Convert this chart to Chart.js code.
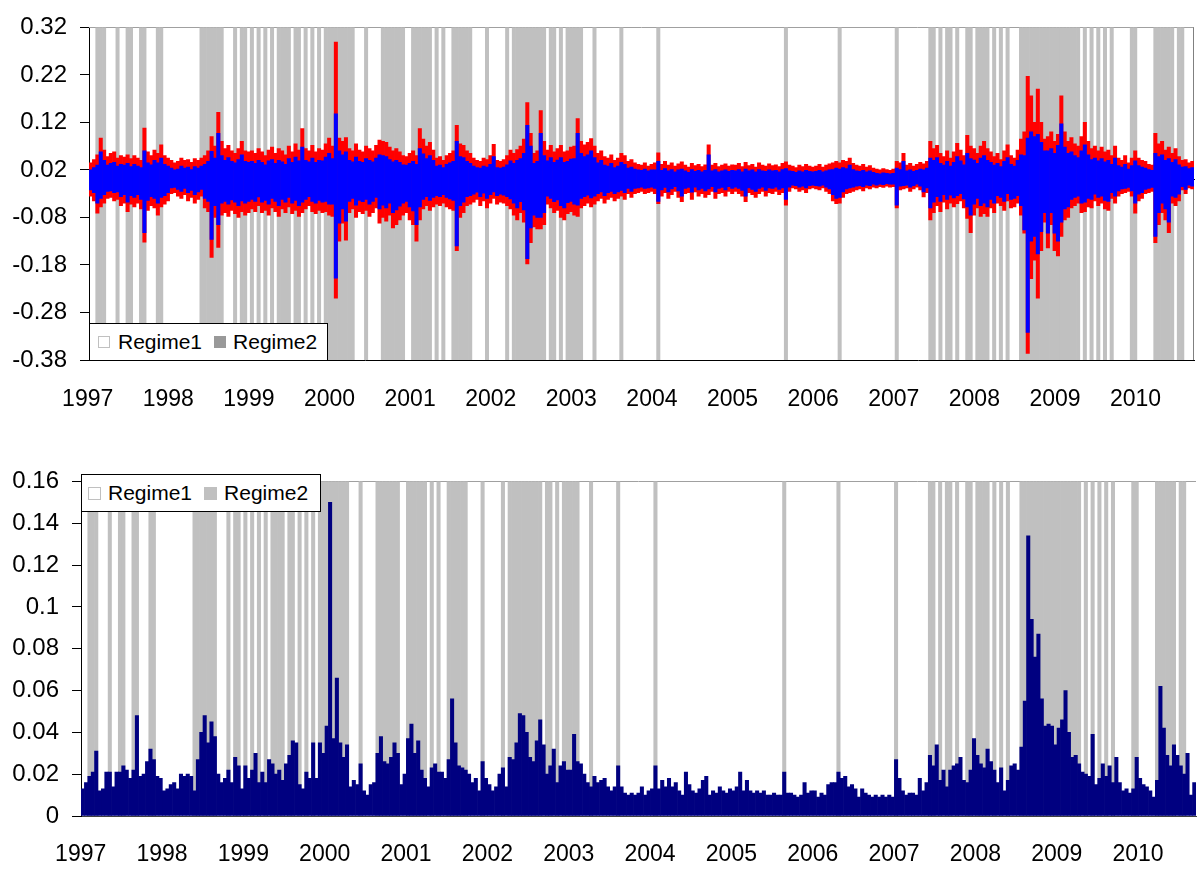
<!DOCTYPE html>
<html>
<head>
<meta charset="utf-8">
<script src="https://cdn.jsdelivr.net/npm/chart.js@4.4.1/dist/chart.umd.min.js"></script>
<style>
  html, body { margin: 0; padding: 0; background: #fff; }
  #wrap { position: relative; width: 1197px; height: 873px; font-family: "Liberation Sans", Arial, sans-serif; }
  .panel { position: absolute; left: 0; width: 1197px; }
  .legend { position: absolute; box-sizing: border-box; background: #fff; border: 1px solid #000;
            display: flex; align-items: center; font-size: 21px; color: #000; white-space: nowrap; }
  .sw { display: inline-block; box-sizing: border-box; flex: none; }
</style>
</head>
<body>
<div id="wrap">
  <div class="panel" style="top:0;height:420px"><canvas id="topChart" width="1197" height="420"></canvas></div>
  <div class="panel" style="top:454px;height:419px"><canvas id="bottomChart" width="1197" height="419"></canvas></div>

  <div class="legend" style="left:89px;top:323px;width:239px;height:38px;padding-left:8px">
    <span class="sw" style="width:12px;height:12px;border:1px solid #c0c0c0;background:#fff"></span>
    <span style="margin-left:8px">Regime1</span>
    <span class="sw" style="width:12px;height:12px;background:#999;margin-left:12px"></span>
    <span style="margin-left:7px">Regime2</span>
  </div>
  <div class="legend" style="left:81px;top:474px;width:240px;height:38px;padding-left:6px">
    <span class="sw" style="width:13px;height:13px;border:1px solid #c0c0c0;background:#fff"></span>
    <span style="margin-left:7px">Regime1</span>
    <span class="sw" style="width:13px;height:13px;background:#c0c0c0;margin-left:12px"></span>
    <span style="margin-left:7px">Regime2</span>
  </div>
</div>

<script>
// ── 데이터 (반월 단위, 1997 ~ 2010.9) ─────────────────────────────────────

const years = ['1997','1998','1999','2000','2001','2002','2003','2004','2005','2006','2007','2008','2009','2010'];
const perYear = 24;

const yTicksTop = [-0.38, -0.28, -0.18, -0.08, 0.02, 0.12, 0.22, 0.32];
const yTicksBottom = [0, 0.02, 0.04, 0.06, 0.08, 0.1, 0.12, 0.14, 0.16];

// Regime2 구간 (기간 인덱스, 양끝 포함)
const regime2Spans = [
  [2,4],[8,8],[11,12],[15,16],[20,21],[33,39],[43,43],[45,46],[48,48],[50,50],[52,52],[54,54],
  [56,59],[61,62],[64,64],[66,66],[68,68],[70,78],[82,82],[87,93],[96,101],[103,103],[105,105],
  [108,113],[118,118],[124,124],[126,135],[137,138],[140,140],[142,146],[150,150],[158,158],
  [169,169],[207,207],[223,223],[240,240],[250,251],[253,253],[255,256],[258,258],[261,262],
  [264,267],[269,269],[271,271],[273,273],[277,294],[296,296],[298,298],[300,300],[302,302],
  [304,304],[310,311],[317,322],[324,325]
];

const redHigh = [
  0.035,0.042,0.052,0.087,0.062,0.048,0.055,0.058,0.045,0.050,0.047,0.052,0.044,0.050,0.045,0.040,0.108,0.058,0.050,0.062,0.055,0.073,0.050,0.045,
  0.040,0.035,0.038,0.045,0.040,0.042,0.036,0.044,0.040,0.045,0.050,0.060,0.090,0.070,0.141,0.080,0.065,0.072,0.060,0.055,0.065,0.080,0.060,0.058,
  0.060,0.055,0.065,0.058,0.050,0.062,0.068,0.055,0.065,0.060,0.052,0.070,0.058,0.075,0.062,0.107,0.065,0.060,0.072,0.058,0.065,0.062,0.075,0.087,
  0.070,0.289,0.087,0.080,0.088,0.065,0.060,0.075,0.062,0.058,0.070,0.065,0.060,0.072,0.083,0.080,0.078,0.068,0.060,0.065,0.058,0.050,0.048,0.055,
  0.060,0.050,0.107,0.085,0.070,0.078,0.062,0.045,0.048,0.040,0.050,0.055,0.060,0.114,0.075,0.072,0.060,0.055,0.045,0.040,0.038,0.045,0.042,0.050,
  0.074,0.040,0.038,0.042,0.050,0.062,0.055,0.063,0.070,0.085,0.162,0.097,0.055,0.060,0.145,0.080,0.062,0.072,0.058,0.065,0.072,0.058,0.060,0.068,
  0.070,0.128,0.080,0.073,0.078,0.086,0.070,0.055,0.060,0.048,0.045,0.052,0.040,0.045,0.055,0.050,0.038,0.042,0.035,0.032,0.030,0.035,0.028,0.032,
  0.035,0.056,0.032,0.038,0.030,0.035,0.028,0.033,0.037,0.030,0.026,0.034,0.029,0.032,0.027,0.031,0.073,0.030,0.034,0.027,0.030,0.033,0.028,0.031,
  0.030,0.034,0.027,0.036,0.029,0.032,0.026,0.035,0.030,0.028,0.033,0.029,0.031,0.027,0.034,0.037,0.030,0.028,0.025,0.030,0.027,0.032,0.028,0.026,
  0.028,0.032,0.026,0.030,0.033,0.035,0.038,0.035,0.040,0.038,0.045,0.034,0.030,0.028,0.032,0.026,0.029,0.024,0.022,0.020,0.023,0.021,0.019,0.022,
  0.038,0.035,0.055,0.030,0.034,0.028,0.032,0.036,0.033,0.038,0.080,0.065,0.072,0.055,0.048,0.060,0.045,0.058,0.076,0.062,0.050,0.093,0.070,0.065,
  0.055,0.070,0.080,0.065,0.058,0.048,0.055,0.042,0.060,0.073,0.050,0.045,0.062,0.085,0.100,0.217,0.176,0.120,0.190,0.120,0.085,0.090,0.100,0.080,
  0.095,0.176,0.100,0.080,0.088,0.075,0.070,0.090,0.120,0.080,0.065,0.070,0.060,0.068,0.058,0.062,0.050,0.070,0.045,0.040,0.050,0.035,0.045,0.060,
  0.045,0.040,0.038,0.032,0.030,0.097,0.075,0.080,0.062,0.068,0.055,0.065,0.048,0.040,0.042,0.035,0.038
];

const redLow = [
  -0.035,-0.045,-0.071,-0.058,-0.050,-0.040,-0.038,-0.045,-0.042,-0.055,-0.050,-0.068,-0.052,-0.058,-0.050,-0.062,-0.132,-0.065,-0.055,-0.060,-0.075,-0.058,-0.052,-0.045,
  -0.030,-0.028,-0.035,-0.040,-0.032,-0.045,-0.038,-0.050,-0.042,-0.035,-0.060,-0.068,-0.164,-0.080,-0.143,-0.075,-0.070,-0.078,-0.065,-0.072,-0.080,-0.068,-0.075,-0.070,
  -0.062,-0.068,-0.055,-0.070,-0.065,-0.075,-0.060,-0.068,-0.078,-0.062,-0.070,-0.058,-0.072,-0.065,-0.078,-0.070,-0.062,-0.055,-0.068,-0.072,-0.065,-0.070,-0.068,-0.075,
  -0.078,-0.250,-0.130,-0.092,-0.128,-0.070,-0.062,-0.080,-0.068,-0.072,-0.065,-0.078,-0.070,-0.060,-0.092,-0.080,-0.088,-0.075,-0.102,-0.095,-0.085,-0.075,-0.070,-0.085,
  -0.095,-0.130,-0.085,-0.062,-0.055,-0.065,-0.058,-0.052,-0.055,-0.050,-0.058,-0.062,-0.065,-0.150,-0.080,-0.070,-0.055,-0.052,-0.048,-0.042,-0.055,-0.045,-0.060,-0.050,
  -0.040,-0.052,-0.048,-0.050,-0.055,-0.062,-0.075,-0.085,-0.070,-0.090,-0.178,-0.133,-0.100,-0.104,-0.104,-0.095,-0.052,-0.060,-0.070,-0.065,-0.080,-0.085,-0.072,-0.068,
  -0.075,-0.078,-0.060,-0.055,-0.050,-0.058,-0.052,-0.045,-0.040,-0.050,-0.042,-0.038,-0.045,-0.040,-0.035,-0.042,-0.030,-0.038,-0.030,-0.028,-0.025,-0.030,-0.028,-0.025,
  -0.030,-0.051,-0.035,-0.028,-0.040,-0.032,-0.025,-0.038,-0.047,-0.030,-0.028,-0.042,-0.026,-0.035,-0.030,-0.038,-0.032,-0.025,-0.040,-0.030,-0.028,-0.035,-0.025,-0.030,
  -0.025,-0.030,-0.035,-0.047,-0.028,-0.032,-0.038,-0.030,-0.025,-0.035,-0.028,-0.030,-0.025,-0.032,-0.028,-0.054,-0.025,-0.018,-0.020,-0.025,-0.022,-0.028,-0.020,-0.018,
  -0.020,-0.022,-0.018,-0.025,-0.030,-0.045,-0.051,-0.050,-0.038,-0.030,-0.028,-0.025,-0.022,-0.020,-0.024,-0.018,-0.020,-0.016,-0.018,-0.015,-0.017,-0.014,-0.016,-0.015,
  -0.060,-0.022,-0.020,-0.018,-0.025,-0.020,-0.016,-0.022,-0.037,-0.028,-0.085,-0.070,-0.055,-0.068,-0.048,-0.062,-0.050,-0.058,-0.051,-0.045,-0.060,-0.082,-0.112,-0.075,
  -0.060,-0.078,-0.072,-0.078,-0.060,-0.070,-0.050,-0.055,-0.065,-0.045,-0.060,-0.058,-0.050,-0.075,-0.113,-0.366,-0.209,-0.170,-0.250,-0.150,-0.090,-0.144,-0.095,-0.150,
  -0.161,-0.120,-0.085,-0.080,-0.060,-0.055,-0.050,-0.070,-0.068,-0.058,-0.060,-0.045,-0.055,-0.050,-0.062,-0.065,-0.040,-0.050,-0.035,-0.030,-0.028,-0.025,-0.035,-0.071,
  -0.045,-0.040,-0.030,-0.028,-0.025,-0.133,-0.095,-0.070,-0.085,-0.112,-0.050,-0.055,-0.045,-0.022,-0.030,-0.018,-0.020
];

const blueHigh = [
  0.020,0.025,0.030,0.058,0.040,0.030,0.034,0.036,0.028,0.032,0.030,0.034,0.027,0.032,0.028,0.025,0.060,0.035,0.031,0.040,0.035,0.045,0.032,0.028,
  0.024,0.020,0.022,0.028,0.024,0.026,0.021,0.027,0.024,0.028,0.032,0.038,0.059,0.045,0.097,0.050,0.040,0.046,0.038,0.035,0.042,0.052,0.038,0.036,
  0.038,0.034,0.040,0.036,0.031,0.039,0.042,0.034,0.040,0.037,0.032,0.044,0.036,0.047,0.039,0.068,0.040,0.037,0.045,0.036,0.040,0.039,0.047,0.055,
  0.044,0.138,0.060,0.052,0.058,0.040,0.037,0.047,0.038,0.036,0.044,0.040,0.037,0.045,0.052,0.050,0.048,0.042,0.037,0.040,0.036,0.031,0.030,0.034,
  0.038,0.032,0.065,0.054,0.044,0.050,0.040,0.028,0.030,0.025,0.032,0.035,0.038,0.080,0.048,0.046,0.038,0.034,0.028,0.025,0.024,0.028,0.026,0.032,
  0.048,0.025,0.024,0.026,0.031,0.039,0.034,0.040,0.044,0.055,0.114,0.070,0.034,0.038,0.097,0.050,0.039,0.046,0.036,0.041,0.046,0.036,0.038,0.043,
  0.044,0.097,0.055,0.048,0.052,0.060,0.046,0.035,0.040,0.030,0.028,0.034,0.025,0.028,0.036,0.032,0.024,0.026,0.022,0.020,0.019,0.022,0.018,0.020,
  0.020,0.038,0.019,0.023,0.018,0.021,0.016,0.020,0.022,0.018,0.015,0.021,0.017,0.019,0.016,0.019,0.052,0.018,0.021,0.016,0.018,0.020,0.017,0.019,
  0.018,0.021,0.016,0.022,0.018,0.020,0.016,0.021,0.018,0.017,0.020,0.018,0.019,0.016,0.021,0.023,0.018,0.017,0.015,0.018,0.016,0.019,0.017,0.016,
  0.017,0.019,0.016,0.018,0.020,0.021,0.024,0.022,0.025,0.023,0.030,0.021,0.018,0.017,0.019,0.016,0.018,0.015,0.013,0.012,0.014,0.013,0.012,0.013,
  0.024,0.021,0.038,0.018,0.020,0.017,0.019,0.022,0.020,0.024,0.045,0.040,0.046,0.034,0.030,0.038,0.028,0.036,0.048,0.039,0.031,0.055,0.044,0.041,
  0.034,0.045,0.050,0.040,0.036,0.030,0.034,0.027,0.038,0.046,0.032,0.028,0.040,0.052,0.050,0.087,0.100,0.090,0.095,0.078,0.060,0.060,0.065,0.055,
  0.072,0.117,0.068,0.055,0.058,0.050,0.046,0.060,0.073,0.052,0.042,0.045,0.039,0.044,0.037,0.040,0.032,0.045,0.029,0.026,0.032,0.022,0.029,0.039,
  0.029,0.026,0.024,0.021,0.019,0.055,0.048,0.052,0.040,0.044,0.036,0.042,0.031,0.026,0.027,0.023,0.025
];

const blueLow = [
  -0.022,-0.028,-0.050,-0.040,-0.032,-0.025,-0.024,-0.028,-0.026,-0.036,-0.032,-0.048,-0.034,-0.038,-0.032,-0.042,-0.112,-0.044,-0.036,-0.040,-0.050,-0.038,-0.034,-0.028,
  -0.018,-0.017,-0.021,-0.025,-0.019,-0.028,-0.023,-0.032,-0.026,-0.021,-0.040,-0.046,-0.126,-0.055,-0.095,-0.050,-0.046,-0.052,-0.043,-0.048,-0.055,-0.045,-0.050,-0.046,
  -0.042,-0.046,-0.037,-0.048,-0.044,-0.052,-0.040,-0.046,-0.055,-0.042,-0.048,-0.038,-0.050,-0.044,-0.055,-0.048,-0.042,-0.036,-0.046,-0.050,-0.044,-0.048,-0.046,-0.052,
  -0.052,-0.208,-0.092,-0.062,-0.088,-0.046,-0.040,-0.054,-0.044,-0.047,-0.042,-0.052,-0.046,-0.038,-0.062,-0.054,-0.060,-0.050,-0.070,-0.064,-0.056,-0.050,-0.046,-0.058,
  -0.066,-0.095,-0.058,-0.042,-0.036,-0.044,-0.038,-0.034,-0.036,-0.032,-0.038,-0.041,-0.044,-0.140,-0.055,-0.048,-0.036,-0.034,-0.031,-0.027,-0.036,-0.029,-0.040,-0.032,
  -0.026,-0.034,-0.031,-0.033,-0.036,-0.041,-0.050,-0.060,-0.047,-0.064,-0.167,-0.102,-0.075,-0.080,-0.080,-0.070,-0.035,-0.040,-0.047,-0.043,-0.055,-0.060,-0.049,-0.046,
  -0.052,-0.054,-0.040,-0.036,-0.033,-0.039,-0.035,-0.030,-0.026,-0.034,-0.028,-0.025,-0.030,-0.026,-0.023,-0.028,-0.019,-0.025,-0.019,-0.018,-0.016,-0.019,-0.018,-0.016,
  -0.019,-0.046,-0.022,-0.017,-0.026,-0.020,-0.015,-0.024,-0.035,-0.019,-0.017,-0.027,-0.016,-0.022,-0.019,-0.024,-0.020,-0.015,-0.026,-0.019,-0.017,-0.022,-0.015,-0.019,
  -0.016,-0.019,-0.023,-0.035,-0.018,-0.021,-0.025,-0.019,-0.016,-0.023,-0.018,-0.019,-0.016,-0.021,-0.018,-0.042,-0.016,-0.012,-0.013,-0.016,-0.014,-0.018,-0.013,-0.012,
  -0.013,-0.014,-0.012,-0.016,-0.020,-0.032,-0.040,-0.038,-0.026,-0.020,-0.018,-0.016,-0.014,-0.013,-0.015,-0.012,-0.013,-0.010,-0.012,-0.010,-0.011,-0.009,-0.010,-0.010,
  -0.054,-0.014,-0.013,-0.012,-0.016,-0.013,-0.010,-0.014,-0.026,-0.018,-0.060,-0.048,-0.036,-0.046,-0.032,-0.042,-0.033,-0.039,-0.034,-0.030,-0.041,-0.058,-0.075,-0.052,
  -0.040,-0.055,-0.050,-0.058,-0.042,-0.050,-0.034,-0.038,-0.046,-0.030,-0.042,-0.040,-0.034,-0.055,-0.106,-0.322,-0.130,-0.120,-0.157,-0.110,-0.070,-0.113,-0.070,-0.113,
  -0.130,-0.090,-0.062,-0.058,-0.042,-0.038,-0.035,-0.050,-0.048,-0.040,-0.042,-0.031,-0.038,-0.035,-0.044,-0.046,-0.028,-0.035,-0.024,-0.020,-0.019,-0.017,-0.024,-0.050,
  -0.031,-0.028,-0.021,-0.019,-0.017,-0.120,-0.070,-0.050,-0.062,-0.090,-0.035,-0.038,-0.031,-0.015,-0.021,-0.012,-0.014
];

const volatility = [
  0.013,0.016,0.019,0.021,0.031,0.012,0.013,0.021,0.021,0.014,0.021,0.021,0.024,0.022,0.018,0.022,0.048,0.019,0.020,0.026,0.032,0.027,0.019,0.018,
  0.012,0.013,0.015,0.016,0.013,0.020,0.019,0.020,0.019,0.012,0.027,0.040,0.048,0.035,0.045,0.038,0.020,0.016,0.018,0.022,0.016,0.028,0.024,0.013,
  0.024,0.018,0.022,0.030,0.016,0.021,0.016,0.027,0.025,0.020,0.022,0.017,0.025,0.029,0.036,0.035,0.015,0.013,0.021,0.018,0.035,0.018,0.035,0.030,
  0.043,0.150,0.037,0.066,0.035,0.028,0.034,0.014,0.017,0.015,0.025,0.012,0.010,0.015,0.016,0.030,0.038,0.026,0.025,0.028,0.035,0.030,0.015,0.020,
  0.037,0.044,0.030,0.036,0.022,0.018,0.014,0.023,0.025,0.021,0.021,0.018,0.027,0.056,0.035,0.024,0.023,0.022,0.020,0.016,0.018,0.012,0.026,0.018,
  0.015,0.012,0.014,0.020,0.023,0.014,0.028,0.027,0.035,0.049,0.048,0.040,0.028,0.026,0.036,0.046,0.034,0.020,0.024,0.032,0.016,0.024,0.026,0.022,
  0.022,0.039,0.026,0.025,0.020,0.016,0.014,0.019,0.016,0.017,0.018,0.014,0.012,0.014,0.024,0.014,0.011,0.010,0.011,0.010,0.011,0.014,0.010,0.012,
  0.013,0.024,0.013,0.017,0.014,0.018,0.014,0.016,0.012,0.010,0.021,0.015,0.012,0.011,0.013,0.017,0.019,0.010,0.012,0.011,0.014,0.012,0.011,0.013,
  0.012,0.014,0.021,0.012,0.017,0.012,0.011,0.012,0.011,0.012,0.010,0.010,0.011,0.010,0.010,0.021,0.011,0.011,0.010,0.009,0.010,0.016,0.011,0.012,
  0.012,0.009,0.011,0.010,0.015,0.016,0.016,0.021,0.018,0.019,0.014,0.015,0.013,0.009,0.013,0.011,0.010,0.009,0.010,0.009,0.010,0.009,0.010,0.009,
  0.027,0.018,0.012,0.010,0.011,0.011,0.010,0.018,0.012,0.016,0.029,0.024,0.034,0.017,0.022,0.014,0.022,0.024,0.025,0.028,0.017,0.016,0.022,0.037,
  0.029,0.025,0.023,0.032,0.026,0.022,0.016,0.023,0.012,0.017,0.024,0.025,0.022,0.033,0.055,0.134,0.094,0.076,0.087,0.056,0.043,0.044,0.043,0.034,
  0.042,0.046,0.060,0.040,0.028,0.029,0.025,0.021,0.020,0.019,0.039,0.015,0.018,0.025,0.019,0.024,0.016,0.028,0.016,0.012,0.013,0.011,0.013,0.028,
  0.018,0.015,0.014,0.012,0.009,0.017,0.062,0.042,0.029,0.024,0.034,0.029,0.024,0.020,0.030,0.010,0.016
];

// ── 공통 설정 ─────────────────────────────────────────────────────────────

const FONT = '"Liberation Sans", Arial, sans-serif';
const COLORS = { red: '#ff0000', blue: '#0000ff', navy: '#000080', shade: '#c0c0c0' };

Chart.defaults.font.family = FONT;
Chart.defaults.color = '#000';

const periods = volatility.map((_, i) => years[Math.floor(i / perYear)] + '/' + (i % perYear + 1));

const regimeFlags = periods.map(() => null);
regime2Spans.forEach(([a, b]) => {
  for (let i = a; i <= b; i++) regimeFlags[i] = 1;
});

// 플롯 영역 테두리 (위/오른쪽)
const framePlugin = {
  id: 'frame',
  beforeDatasetsDraw(chart, args, opts) {
    const { ctx, chartArea: a } = chart;
    ctx.save();
    ctx.lineWidth = 1;
    if (opts.top) {
      ctx.strokeStyle = opts.top;
      ctx.beginPath();
      ctx.moveTo(a.left, Math.round(a.top) + 0.5);
      ctx.lineTo(a.right, Math.round(a.top) + 0.5);
      ctx.stroke();
    }
    if (opts.right) {
      ctx.strokeStyle = opts.right;
      ctx.beginPath();
      ctx.moveTo(Math.round(a.right) - 0.5, a.top);
      ctx.lineTo(Math.round(a.right) - 0.5, a.bottom);
      ctx.stroke();
    }
    ctx.restore();
  }
};

const barDefaults = { grouped: false, barPercentage: 1, categoryPercentage: 1, borderWidth: 0 };

function yearTicks(padding, offset) {
  return {
    autoSkip: false, maxRotation: 0, minRotation: 0,
    padding, labelOffset: offset, color: '#000',
    font: { size: 23, family: FONT },
    callback: (v, i) => (i % perYear === 0 ? years[i / perYear] : null),
  };
}

// ── 위 차트: 수익률 ───────────────────────────────────────────────────────

new Chart(document.getElementById('topChart'), {
  type: 'bar',
  data: {
    labels: periods,
    datasets: [
      { label: 'Regime2', data: regimeFlags, xAxisID: 'x', yAxisID: 'yR', backgroundColor: COLORS.shade, order: 3 },
      { label: 'red', data: redLow.map((v, i) => [v, redHigh[i]]), xAxisID: 'x', yAxisID: 'y', backgroundColor: COLORS.red, order: 2 },
      { label: 'blue', data: blueLow.map((v, i) => [v, blueHigh[i]]), xAxisID: 'x', yAxisID: 'y', backgroundColor: COLORS.blue, order: 1 },
    ],
  },
  options: {
    responsive: false,
    animation: false,
    events: [],
    layout: { padding: { top: 20, right: 3, left: 0, bottom: 0 } },
    datasets: { bar: barDefaults },
    plugins: {
      legend: { display: false },
      tooltip: { enabled: false },
      frame: { top: '#a0a0a0', right: '#808080' },
    },
    scales: {
      x: {
        type: 'category',
        afterFit: s => { s.height = 60; },
        ticks: yearTicks(26, -3),
        grid: { display: false, drawTicks: false },
        border: { color: '#000' },
      },
      x0: {
        type: 'category',
        position: { y: 0 },
        z: 1,
        ticks: { display: false },
        grid: { display: false, drawTicks: false },
        border: { color: '#000', width: 1 },
      },
      y: {
        type: 'linear',
        min: -0.38, max: 0.32,
        afterBuildTicks: s => { s.ticks = yTicksTop.map(v => ({ value: v })); },
        afterFit: s => { s.width = 89; },
        ticks: { padding: 13, color: '#000', font: { size: 24, family: FONT }, callback: v => v.toFixed(2) },
        grid: { drawOnChartArea: false, tickLength: 9, tickColor: '#000' },
        border: { color: '#000' },
      },
      yR: { type: 'linear', display: false, min: 0, max: 1 },
    },
  },
  plugins: [framePlugin],
});

// ── 아래 차트: 변동성 ─────────────────────────────────────────────────────

new Chart(document.getElementById('bottomChart'), {
  type: 'bar',
  data: {
    labels: periods,
    datasets: [
      { label: 'Regime2', data: regimeFlags, yAxisID: 'yR', backgroundColor: COLORS.shade, order: 2 },
      { label: 'vol', data: volatility, yAxisID: 'y', backgroundColor: COLORS.navy, order: 1 },
    ],
  },
  options: {
    responsive: false,
    animation: false,
    events: [],
    layout: { padding: { top: 20, right: 1, left: 0, bottom: 0 } },
    datasets: { bar: barDefaults },
    plugins: {
      legend: { display: false },
      tooltip: { enabled: false },
      frame: { top: '#a0a0a0' },
    },
    scales: {
      x: {
        type: 'category',
        afterFit: s => { s.height = 57; },
        ticks: yearTicks(25, -2),
        grid: { display: false, drawTicks: false },
        border: { color: '#404040' },
      },
      y: {
        type: 'linear',
        min: 0, max: 0.16,
        afterBuildTicks: s => { s.ticks = yTicksBottom.map(v => ({ value: v })); },
        afterFit: s => { s.width = 81; },
        ticks: { padding: 13, color: '#000', font: { size: 24, family: FONT }, callback: v => String(+v.toFixed(2)) },
        grid: { drawOnChartArea: false, tickLength: 9, tickColor: '#000' },
        border: { color: '#000' },
      },
      yR: { type: 'linear', display: false, min: 0, max: 1 },
    },
  },
  plugins: [framePlugin],
});
</script>
</body>
</html>
